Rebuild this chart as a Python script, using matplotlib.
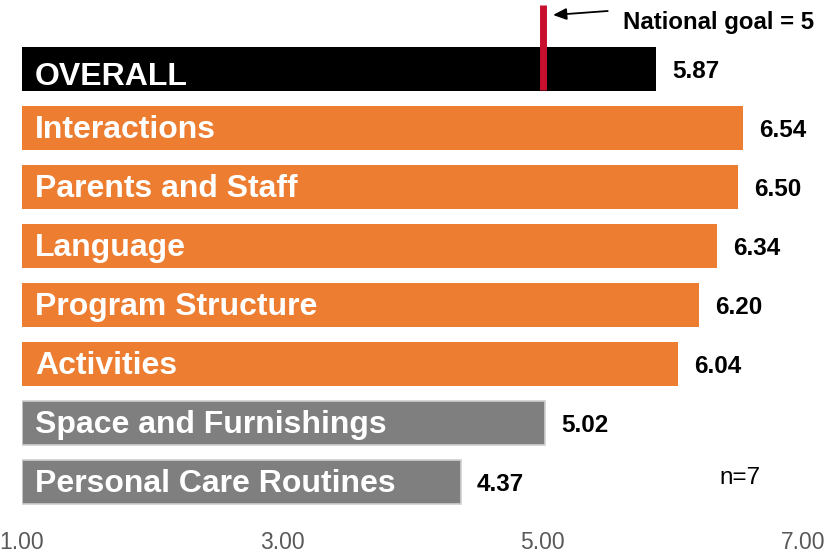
import matplotlib
matplotlib.use("Agg")
import matplotlib.pyplot as plt
from matplotlib import font_manager

# ---- data ----
categories = ["OVERALL", "Interactions", "Parents and Staff", "Language",
              "Program Structure", "Activities", "Space and Furnishings",
              "Personal Care Routines"]
scores = [5.87, 6.54, 6.50, 6.34, 6.20, 6.04, 5.02, 4.37]
groups = ["overall", "high", "high", "high", "high", "high", "low", "low"]
tick_values = [1, 3, 5, 7]
tick_labels = ["1.00", "3.00", "5.00", "7.00"]
GOAL = 5
N_SITES = 7

# ---- style ----
COLORS = {"overall": "#000000", "high": "#ED7D31", "low": "#7F7F7F"}
EDGES = {"overall": "none", "high": "none", "low": "#D0D0D0"}
GOAL_COLOR = "#C8102E"

installed = {f.name for f in font_manager.fontManager.ttflist}
NARROW = "Liberation Sans Narrow" if "Liberation Sans Narrow" in installed else "Liberation Sans"
WIDE = "Liberation Sans"

fig = plt.figure(figsize=(8.25, 5.54), dpi=100)
ax = fig.add_axes([22 / 825, 1 - 520 / 554, 781 / 825, 520 / 554])

y = list(range(len(categories)))
for yi, cat, val, grp in zip(y, categories, scores, groups):
    ax.barh(yi, val - 1, left=1, height=0.746, color=COLORS[grp],
            edgecolor=EDGES[grp], linewidth=1.2)
    # category name inside the bar (OVERALL sits a little lower)
    ax.annotate(cat, xy=(1, yi), xytext=(9.5, -5.5 if yi == 0 else -1.5),
                textcoords="offset points", ha="left", va="center",
                color="white", fontweight="bold", fontsize=23,
                family=NARROW if grp == "low" else WIDE)
    # score just past the bar end
    ax.annotate(f"{val:.2f}", xy=(val, yi), xytext=(11.5, -2),
                textcoords="offset points", ha="left", va="center",
                color="black", fontweight="bold", fontsize=17.5,
                family=NARROW if grp == "low" else WIDE)

# national goal marker
ax.axvline(GOAL, ymin=1 - 90 / 520, ymax=1 - 5 / 520, color=GOAL_COLOR,
           linewidth=5, solid_capstyle="butt")
ax.annotate("", xy=(5.08, 1 - 15 / 520), xycoords=("data", "axes fraction"),
            xytext=(5.50, 1 - 11 / 520), textcoords=("data", "axes fraction"),
            arrowprops=dict(arrowstyle="-|>,head_length=0.8,head_width=0.35",
                            color="black", lw=1.3, shrinkA=0, shrinkB=0))
ax.text(5.62, 1 - 23 / 520, f"National goal = {GOAL}",
        transform=ax.get_xaxis_transform(), ha="left", va="center",
        fontsize=17.3, fontweight="bold", family=WIDE)

ax.text(6.36, 6.93, f"n={N_SITES}", ha="left", va="center",
        fontsize=17.5, family=NARROW)

ax.set_xlim(1, 7)
ax.set_ylim(7.644, -1.169)
ax.set_xticks(tick_values)
ax.set_xticklabels(tick_labels, family=NARROW, fontsize=16.5, color="#595959")
ax.tick_params(axis="x", length=0, pad=8)
ax.set_yticks([])
for s in ax.spines.values():
    s.set_visible(False)

fig.savefig("out.png", dpi=100)
